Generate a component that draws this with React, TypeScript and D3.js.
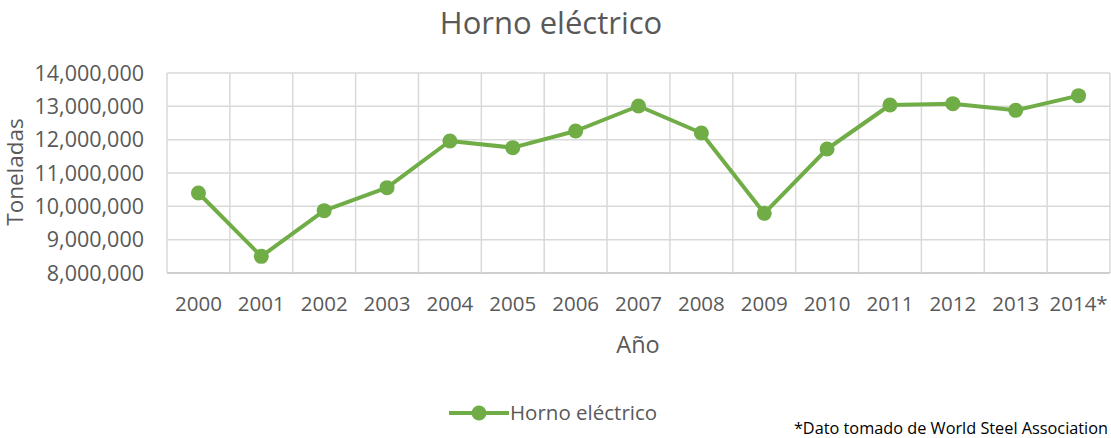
import React from "react";
import * as d3 from "d3";

const years = ["2000","2001","2002","2003","2004","2005","2006","2007","2008","2009","2010","2011","2012","2013","2014*"];
const values = [10400000, 8500000, 9870000, 10560000, 11960000, 11760000, 12260000, 13010000, 12200000, 9790000, 11720000, 13040000, 13080000, 12880000, 13320000];
const yTicks = [8000000, 9000000, 10000000, 11000000, 12000000, 13000000, 14000000];
const title = "Horno eléctrico";
const seriesName = "Horno eléctrico";
const xTitle = "Año";
const yTitle = "Toneladas";
const note = "*Dato tomado de World Steel Association";

const W = 1111, H = 438;
const left = 167, right = 1110, top = 73, bottom = 273;
const green = "#70AD47";
const grid = "#D9D9D9";
const txt = "#595959";
const font = "'Open Sans', sans-serif";

export default function App() {
  const x = d3.scaleBand().domain(years).range([left, right]);
  const y = d3.scaleLinear().domain([8000000, 14000000]).range([bottom, top]);
  const fmt = d3.format(",");
  const line = d3.line<number>()
    .x((_, i) => (x(years[i]) as number) + x.bandwidth() / 2)
    .y((d) => y(d));
  const bounds = years.map((yr) => x(yr) as number).concat([right]);
  return (
    <svg width={W} height={H} style={{ position: "absolute", left: 0, top: 0, background: "#fff" }} fontFamily={font}>
      <rect x={0} y={0} width={W} height={H} fill="#fff" />
      <text x={551} y={34} textAnchor="middle" fontSize={31} fill={txt}>{title}</text>
      {yTicks.map((t) => (
        <line key={"h" + t} x1={left} x2={right} y1={y(t)} y2={y(t)} stroke={t === 8000000 ? "#BFBFBF" : grid} strokeWidth={1.5} />
      ))}
      {bounds.map((b, i) => (
        <line key={"v" + i} x1={b} x2={b} y1={top} y2={bottom} stroke={grid} strokeWidth={1.5} />
      ))}
      {yTicks.map((t) => (
        <text key={"yl" + t} x={144} y={y(t)} dy="0.35em" textAnchor="end" fontSize={21.5} fill={txt}>{fmt(t)}</text>
      ))}
      {years.map((yr) => (
        <text key={"xl" + yr} x={(x(yr) as number) + x.bandwidth() / 2} y={311} textAnchor="middle" fontSize={20.5} fill={txt}>{yr}</text>
      ))}
      <text x={638} y={353} textAnchor="middle" fontSize={23.5} fill={txt}>{xTitle}</text>
      <text transform={`translate(15,172) rotate(-90)`} dy="0.35em" textAnchor="middle" fontSize={22.5} fill={txt}>{yTitle}</text>
      <path d={line(values) || ""} fill="none" stroke={green} strokeWidth={4} strokeLinejoin="round" />
      {values.map((v, i) => (
        <circle key={"c" + i} cx={(x(years[i]) as number) + x.bandwidth() / 2} cy={y(v)} r={7.5} fill={green} />
      ))}
      <line x1={449} x2={509} y1={413} y2={413} stroke={green} strokeWidth={4} />
      <circle cx={479} cy={413} r={7.5} fill={green} />
      <text x={510} y={413} dy="0.35em" fontSize={20.5} fill={txt}>{seriesName}</text>
      <text x={1108} y={434} textAnchor="end" fontSize={16.3} fill="#000">{note}</text>
    </svg>
  );
}
